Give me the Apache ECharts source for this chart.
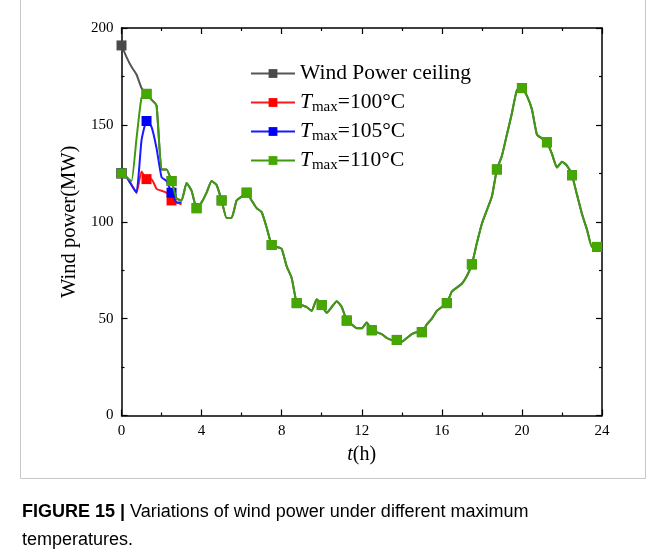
<!DOCTYPE html>
<html>
<head>
<meta charset="utf-8">
<script src="https://cdn.jsdelivr.net/npm/echarts@6/dist/echarts.min.js"></script>
<style>
html,body{margin:0;padding:0;background:#fff;}
#c{width:665px;height:556px;}
</style>
</head>
<body>
<div id="c"></div>
<script>
const hours = [0,0.25,0.5,0.75,1,1.25,1.5,1.75,2,2.25,2.5,2.75,3,3.25,3.5,3.75,4,4.25,4.5,4.75,5,5.25,5.5,5.75,6,6.25,6.5,6.75,7,7.25,7.5,7.75,8,8.25,8.5,8.75,9,9.25,9.5,9.75,10,10.25,10.5,10.75,11,11.25,11.5,11.75,12,12.25,12.5,12.75,13,13.25,13.5,13.75,14,14.25,14.5,14.75,15,15.25,15.5,15.75,16,16.25,16.5,16.75,17,17.25,17.5,17.75,18,18.25,18.5,18.75,19,19.25,19.5,19.75,20,20.25,20.5,20.75,21,21.25,21.5,21.75,22,22.25,22.5,22.75,23,23.25,23.5,23.75];

const ceiling = [191,185,180,176,169,166,163,160,127,127,121,112,111,120,116,107,110,115,121,119,111,102,102,111,113,115,111,107,105,97,88,87,86,77,71,58,57,56,54,60,57,53,56,59,56,49,47,45,45,48,44,43,42,40,39,39,38,40,42,43,43,47,50,54,56,58,64,66,68,72,78,89,99,106,113,127,134,145,156,168,169,165,158,145,143,141,135,128,131,129,124,114,104,96,87,87];

const t110 = [125,123,121,143,164,166,163,160,127,127,121,112,111,120,116,107,110,115,121,119,111,102,102,111,113,115,111,107,105,97,88,87,86,77,71,58,57,56,54,60,57,53,56,59,56,49,47,45,45,48,44,43,42,40,39,39,38,40,42,43,43,47,50,54,56,58,64,66,68,72,78,89,99,106,113,127,134,145,156,168,169,165,158,145,143,141,135,128,131,129,124,114,104,96,87,87];

const t105 = [125,123,119,115,142,152,149,138,123,121,115,110,110];
const t100 = [125,123,119,115,126,122,122,117,116,115,111,110,109];

const xTicks = [0,4,8,12,16,20,24];
const yTicks = [0,50,100,150,200];

const names = ['Wind Power ceiling','T100','T105','T110'];

function pairs(vals){ return vals.map((v,i)=>[hours[i], v]); }

const chart = echarts.init(document.getElementById('c'), null, {renderer:'canvas'});
const serif = 'Liberation Serif';

function mk(name, vals, lineColor, markColor, z){
  return {
    name: name, type:'line', data: pairs(vals),
    smooth: 0.15, showSymbol:true, showAllSymbol:true,
    symbol:'rect',
    symbolSize: function(v, p){ return p.dataIndex % 5 === 0 ? 10 : 0; },
    lineStyle:{color: lineColor, width: 2},
    itemStyle:{color: markColor, borderColor: markColor, borderWidth:0},
    emphasis:{disabled:true},
    z: z, animation:false
  };
}

const richLegend = {
  i:{fontFamily:serif, fontStyle:'italic', fontSize:21.5, color:'#000', verticalAlign:'top', lineHeight:23},
  s:{fontFamily:serif, fontSize:15, color:'#000', verticalAlign:'top', lineHeight:23, padding:[9,0,0,0]},
  n:{fontFamily:serif, fontSize:21.5, color:'#000', verticalAlign:'top', lineHeight:23}
};
function legendFmt(name){
  if (name === 'Wind Power ceiling') return '{n|Wind Power ceiling}';
  return '{i|T}{s|max}{n|=' + name.slice(1) + '°C}';
}
function leg(name, top){
  return {
    data:[name], left: 245, top: top, orient:'vertical',
    itemWidth: 44, itemHeight: 11, itemGap: 0,
    formatter: legendFmt,
    textStyle:{rich: richLegend, fontFamily: serif, fontSize:21.5, color:'#000'},
    selectedMode:false
  };
}

const tickStyle = {color:'#000', width:1.2};
function axisCommon(showLabel){
  return {
    axisLine:{show:true, onZero:false, lineStyle:{color:'#000', width:1.5}},
    axisTick:{show:true, inside:true, length:6, lineStyle:tickStyle},
    minorTick:{show:true, splitNumber:2, length:3, lineStyle:tickStyle},
    axisLabel: showLabel ? {fontFamily:serif, fontSize:15, color:'#000', margin:8} : {show:false},
    splitLine:{show:false}
  };
}

const option = {
  backgroundColor:'#fff',
  animation:false,
  grid:{left:121.5, right:63, top:28, bottom:140.5},
  legend:[leg(names[0],57), leg(names[1],86), leg(names[2],115), leg(names[3],144)],
  xAxis:[Object.assign({
    type:'value', min:0, max:24, interval:4, position:'bottom',
    name:'{it|t}{n|(h)}', nameLocation:'middle', nameGap:29,
    nameTextStyle:{rich:{it:{fontFamily:serif,fontStyle:'italic',fontSize:20,color:'#000'}, n:{fontFamily:serif,fontSize:20,color:'#000'}}}
  }, axisCommon(true)), Object.assign({
    type:'value', min:0, max:24, interval:4, position:'top'
  }, axisCommon(false))],
  yAxis:[Object.assign({
    type:'value', min:0, max:200, interval:50, position:'left',
    name:'Wind power(MW)', nameLocation:'middle', nameGap:33, nameRotate:90,
    nameTextStyle:{fontFamily:serif, fontSize:20.5, color:'#000'}
  }, axisCommon(true)), Object.assign({
    type:'value', min:0, max:200, interval:50, position:'right'
  }, axisCommon(false))],
  series:[
    mk(names[0], ceiling, '#555555', '#4a4a4a', 2),
    mk(names[1], t100, '#ff1a1a', '#ff0000', 3),
    mk(names[2], t105, '#1a1aff', '#0000ff', 4),
    mk(names[3], t110, '#3f9a12', '#44a800', 5)
  ],
  graphic:[
    {type:'rect', shape:{x:20.5, y:-2, width:625, height:480.5}, style:{fill:'none', stroke:'#c8c8c8', lineWidth:1}, silent:true},
    {type:'text', left:22, top:503, style:{text:'{b|FIGURE 15 | }{r|Variations of wind power under different maximum}\n{r|temperatures.}',
      rich:{b:{fontFamily:'Liberation Sans', fontWeight:'bold', fontSize:18, color:'#222', lineHeight:28},
            r:{fontFamily:'Liberation Sans', fontSize:18, color:'#222', lineHeight:28}}}}
  ]
};
chart.setOption(option);
</script>
</body>
</html>
